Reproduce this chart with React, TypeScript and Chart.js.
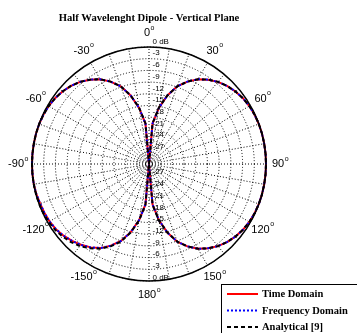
import React, { useEffect, useRef } from 'react';
import { Chart, registerables } from 'chart.js';

Chart.register(...registerables);

const titleText = 'Half Wavelenght Dipole - Vertical Plane';

// angle categories in degrees, clockwise from the top (0..355)
const angleCategories = [
  0, 5, 10, 15, 20, 25, 30, 35, 40, 45, 50, 55, 60, 65, 70, 75, 80, 85,
  90, 95, 100, 105, 110, 115, 120, 125, 130, 135, 140, 145, 150, 155, 160, 165, 170, 175,
  180, 185, 190, 195, 200, 205, 210, 215, 220, 225, 230, 235, 240, 245, 250, 255, 260, 265,
  270, 275, 280, 285, 290, 295, 300, 305, 310, 315, 320, 325, 330, 335, 340, 345, 350, 355,
];

// values in dB
const analytical = [
  -30, -19.5, -15.3, -11.8, -8.8, -6.7, -4.9, -3.6, -2.5, -1.7, -1.05, -0.6, -0.3, -0.12, -0.03, 0, 0, 0,
  0, 0, 0, 0, -0.03, -0.12, -0.3, -0.6, -1.05, -1.7, -2.5, -3.6, -4.9, -6.7, -8.8, -11.8, -15.3, -19.5,
  -30, -19.5, -15.3, -11.8, -8.8, -6.7, -4.9, -3.6, -2.5, -1.7, -1.05, -0.6, -0.3, -0.12, -0.03, 0, 0, 0,
  0, 0, 0, 0, -0.03, -0.12, -0.3, -0.6, -1.05, -1.7, -2.5, -3.6, -4.9, -6.7, -8.8, -11.8, -15.3, -19.5,
];

const timeDomain = [
  -30, -19.6, -15.4, -11.8, -8.8, -6.7, -4.9, -3.6, -2.5, -1.7, -1.05, -0.6, -0.3, -0.12, -0.03, 0, 0, 0,
  0, 0, 0, 0, -0.03, -0.12, -0.3, -0.6, -1.05, -1.7, -2.5, -3.6, -4.9, -6.7, -8.8, -11.8, -15.4, -19.6,
  -30, -19.6, -15.4, -11.9, -9.0, -6.9, -5.1, -3.9, -2.95, -2.1, -1.4, -0.85, -0.55, -0.4, -0.3, -0.1, 0, 0,
  0, 0, 0, 0, -0.03, -0.12, -0.3, -0.6, -1.05, -1.7, -2.5, -3.6, -4.9, -6.7, -8.8, -11.8, -15.4, -19.6,
];

const frequencyDomain = [
  -30, -19.6, -15.4, -11.8, -8.8, -6.7, -4.9, -3.6, -2.5, -1.7, -1.05, -0.6, -0.3, -0.12, -0.03, 0, 0, 0,
  0, 0, 0, 0, -0.03, -0.12, -0.3, -0.6, -1.05, -1.7, -2.5, -3.6, -4.9, -6.7, -8.8, -11.8, -15.4, -19.6,
  -30, -19.6, -15.4, -11.9, -9.0, -6.9, -5.1, -3.9, -2.9, -2.1, -1.4, -0.85, -0.55, -0.4, -0.3, -0.1, 0, 0,
  0, 0, 0, 0, -0.03, -0.12, -0.3, -0.6, -1.05, -1.7, -2.5, -3.6, -4.9, -6.7, -8.8, -11.8, -15.4, -19.6,
];

const angleTickLabels = [0, 30, 60, 90, 120, 150, 180, -150, -120, -90, -60, -30];
const ringTicks = [0, -3, -6, -9, -12, -15, -18, -21, -24, -27];
const seriesNames = ['Time Domain', 'Frequency Domain', 'Analytical [9]'];

const SANS = '"Liberation Sans", Arial, sans-serif';
const SERIF = '"Liberation Serif", "Times New Roman", serif';

const overlayPlugin = {
  id: 'overlay',
  afterDraw(chart: any) {
    const ctx = chart.ctx as CanvasRenderingContext2D;
    const s = chart.scales.r;
    const cx = s.xCenter;
    const cy = s.yCenter;
    const R = s.drawingArea;
    ctx.save();

    // outer solid circle
    ctx.beginPath();
    ctx.arc(cx, cy, R, 0, Math.PI * 2);
    ctx.strokeStyle = '#000';
    ctx.lineWidth = 1.5;
    ctx.setLineDash([]);
    ctx.stroke();

    // ring labels (top and bottom)
    ctx.fillStyle = '#000';
    ctx.font = `8px ${SANS}`;
    ctx.textAlign = 'left';
    ctx.textBaseline = 'middle';
    ringTicks.forEach((v) => {
      const d = s.getDistanceFromCenterForValue(v);
      const t = v === 0 ? '0 dB' : String(v);
      ctx.fillText(t, cx + 3.5, cy - d - 5.5);
      ctx.fillText(t, cx + 3.5, cy + d - 3.5);
    });

    // angle labels with superscript "o"
    angleTickLabels.forEach((a) => {
      const idx = angleCategories.indexOf(a < 0 ? a + 360 : a);
      const p = s.getPointPosition(idx, R + 14);
      const main = String(a);
      ctx.font = `11px ${SANS}`;
      const w1 = ctx.measureText(main).width;
      ctx.font = `7px ${SANS}`;
      const w2 = ctx.measureText('o').width;
      const x0 = p.x - (w1 + w2) / 2;
      ctx.textAlign = 'left';
      ctx.textBaseline = 'middle';
      ctx.font = `11px ${SANS}`;
      ctx.fillText(main, x0, p.y);
      ctx.font = `7px ${SANS}`;
      ctx.fillText('o', x0 + w1 + 0.5, p.y - 5);
    });

    // title
    ctx.font = `bold 10.6px ${SERIF}`;
    ctx.textAlign = 'center';
    ctx.textBaseline = 'alphabetic';
    ctx.fillText(titleText, cx, 20.5);

    // legend box
    const lx = 221.5;
    const ly = 284.5;
    ctx.fillStyle = '#fff';
    ctx.fillRect(lx, ly, 140, 55);
    ctx.strokeStyle = '#000';
    ctx.lineWidth = 1;
    ctx.strokeRect(lx, ly, 140, 55);
    const ds = chart.data.datasets;
    const lineYs = [294, 310.5, 327];
    seriesNames.forEach((name, i) => {
      const d = ds[i];
      const y = lineYs[i];
      ctx.beginPath();
      ctx.strokeStyle = d.borderColor;
      ctx.lineWidth = 2;
      ctx.setLineDash(d.borderDash || []);
      ctx.moveTo(227, y);
      ctx.lineTo(258, y);
      ctx.stroke();
      ctx.setLineDash([]);
      ctx.fillStyle = '#000';
      ctx.font = `bold 10.5px ${SERIF}`;
      ctx.textAlign = 'left';
      ctx.textBaseline = 'middle';
      ctx.fillText(name, 262, y + 0.5);
    });

    ctx.restore();
  },
};

export default function App() {
  const ref = useRef<HTMLCanvasElement | null>(null);

  useEffect(() => {
    if (!ref.current) return;
    const chart = new Chart(ref.current, {
      type: 'radar',
      data: {
        labels: angleCategories.map((a) => String(a)),
        datasets: [
          {
            label: seriesNames[0],
            data: timeDomain,
            borderColor: '#ff0000',
            borderWidth: 2,
            fill: false,
            pointRadius: 0,
            order: 3,
          },
          {
            label: seriesNames[1],
            data: frequencyDomain,
            borderColor: '#0000ff',
            borderWidth: 2,
            borderDash: [2, 2],
            fill: false,
            pointRadius: 0,
            order: 2,
          },
          {
            label: seriesNames[2],
            data: analytical,
            borderColor: '#000000',
            borderWidth: 2,
            borderDash: [4, 3],
            fill: false,
            pointRadius: 0,
            order: 1,
          },
        ],
      },
      options: {
        animation: false,
        responsive: false,
        layout: { padding: { left: 32, top: 47, right: 90, bottom: 51 } },
        elements: { line: { tension: 0 } },
        plugins: {
          legend: { display: false },
          title: { display: false },
          tooltip: { enabled: false },
        },
        scales: {
          r: {
            min: -30,
            max: 0,
            startAngle: 0,
            ticks: { display: false, stepSize: 3 },
            pointLabels: { display: false },
            grid: { circular: true, color: '#000', lineWidth: 1 },
            border: { dash: [1, 2] },
            angleLines: {
              display: true,
              color: '#000',
              lineWidth: (c: any) => (c.index % 2 === 0 ? 1 : 0),
              borderDash: [1, 2],
            },
          },
        },
      },
      plugins: [overlayPlugin],
    } as any);
    return () => chart.destroy();
  }, []);

  return (
    <canvas
      ref={ref}
      width={357}
      height={333}
      style={{ position: 'fixed', left: 0, top: 0, width: 357, height: 333 }}
    />
  );
}
